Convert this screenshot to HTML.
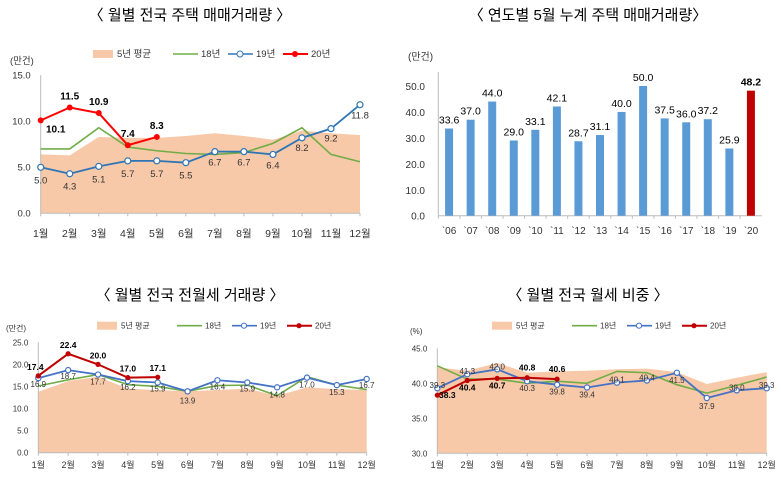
<!DOCTYPE html>
<html><head><meta charset="utf-8">
<style>
body{margin:0;background:#fff;width:781px;height:478px;overflow:hidden;font-family:"Liberation Sans","Noto Sans CJK KR",sans-serif}
svg{position:absolute;left:0;top:0}
text{font-family:"Liberation Sans","Noto Sans CJK KR",sans-serif}
</style></head>
<body>
<svg id="s" width="781" height="478">
<text x="190" y="20" font-size="15" text-anchor="middle" fill="#000">〈 월별 전국 주택 매매거래량 〉</text>
<text x="588" y="20" font-size="15" text-anchor="middle" fill="#000">〈 연도별 5월 누계 주택 매매거래량〉</text>
<text x="190" y="300" font-size="15" text-anchor="middle" fill="#000">〈 월별 전국 전월세 거래량 〉</text>
<text x="588" y="300" font-size="15" text-anchor="middle" fill="#000">〈 월별 전국 월세 비중 〉</text>
</svg>
<script>
const months=['1월','2월','3월','4월','5월','6월','7월','8월','9월','10월','11월','12월'];
const c1Avg=[6.4,6.3,8.3,8.2,8.2,8.4,8.7,8.4,8.0,9.0,8.7,8.5];
const c1Y18=[7.0,7.0,9.3,7.2,6.8,6.5,6.4,6.6,7.6,9.3,6.4,5.6];
const c1Y19=[5.0,4.3,5.1,5.7,5.7,5.5,6.7,6.7,6.4,8.2,9.2,11.8];
const c1Y20=[10.1,11.5,10.9,7.4,8.3];
const c1Ticks=[0,5,10,15];
const c3Avg=[13.8,16.2,17.2,14.5,14.2,13.9,14.2,14.5,12.9,14.8,14.4,14.2];
const c3Y18=[15.1,16.5,17.7,15.4,15.0,13.9,15.2,15.3,12.9,17.2,15.3,14.3];
const c3Y19=[16.9,18.7,17.7,16.2,15.9,13.9,16.4,15.9,14.8,17.0,15.3,16.7];
const c3Y20=[17.4,22.4,20.0,17.0,17.1];
const c3Ticks=[0,5,10,15,20,25];
const c4Avg=[42.3,41.8,42.9,41.5,41.7,41.8,42.0,42.1,41.6,39.9,40.8,41.6];
const c4Y18=[42.5,40.6,40.6,40.0,40.3,40.0,41.7,41.5,39.8,38.6,39.7,40.9];
const c4Y19=[39.3,41.3,42.0,40.3,39.8,39.4,40.1,40.4,41.5,37.9,39.0,39.3];
const c4Y20=[38.3,40.4,40.7,40.8,40.6];
const c4Ticks=[30,35,40,45];
const years=['`06','`07','`08','`09','`10','`11','`12','`13','`14','`15','`16','`17','`18','`19','`20'];
const yearVals=[33.6,37.0,44.0,29.0,33.1,42.1,28.7,31.1,40.0,50.0,37.5,36.0,37.2,25.9,48.2];
const c2Ticks=[0,10,20,30,40,50];

const S=document.getElementById('s');const NS='http://www.w3.org/2000/svg';
function mk(t,a,p){const e=document.createElementNS(NS,t);for(const k in a)e.setAttribute(k,a[k]);(p||S).appendChild(e);return e;}
function txt(x,y,s,fs,anchor,fill,bold){const e=mk('text',{x:x,y:y,'font-size':fs,'text-anchor':anchor||'middle',fill:fill||'#000'});if(bold)e.setAttribute('font-weight','bold');e.textContent=s;return e;}

function lineChart(o){
  const X=i=>o.x0+i*(o.x1-o.x0)/11;
  const Y=v=>o.yb-(v-o.vmin)/(o.vmax-o.vmin)*(o.yb-o.yt);
  const g=mk('g',{});
  
  
  // area
  let d='M'+X(0)+','+Y(o.vmin);
  o.avg.forEach((v,i)=>d+=' L'+X(i)+','+Y(v));
  d+=' L'+X(11)+','+Y(o.vmin)+'Z';
  const ar=mk('path',{d:d,fill:'#f8c9a8'},g);
  
  
  // axes
  mk('line',{x1:o.x0,y1:o.yt,x2:o.x0,y2:o.yb,stroke:'#bbb'},g);
  mk('line',{x1:o.x0,y1:o.yb,x2:o.x1,y2:o.yb,stroke:'#bbb'},g);
  o.ticks.forEach(t=>{const e=txt(o.x0-10,Y(t)+3,t.toFixed(1),o.fs,'end','#333');g.appendChild(e);});
  months.forEach((m,i)=>{mk('line',{x1:X(i),y1:o.yb,x2:X(i),y2:o.yb+3,stroke:'#bbb'},g);const e=txt(X(i),o.xly,m,o.fs+1,'middle','#333');g.appendChild(e);});
  const u=txt(o.ux,o.uy,o.unit,o.fs,'start','#333');
  const pl=(arr,col,w)=>{const p=mk('polyline',{points:arr.map((v,i)=>X(i)+','+Y(v)).join(' '),fill:'none',stroke:col,'stroke-width':w},g);return p;};
  const p18=pl(o.y18,'#70ad47',1.6);
  const p19=pl(o.y19,o.c19,1.8);
  o.y19.forEach((v,i)=>{const c=mk('circle',{cx:X(i),cy:Y(v),r:o.r,fill:'#fff',stroke:o.c19,'stroke-width':1.2},g);
    const off=o.lab19[i]||[0,12];const e=txt(X(i)+off[0],Y(v)+off[1],v.toFixed(1),o.fs,'middle','#333');});
  const p20=pl(o.y20,o.c20,2);
  o.y20.forEach((v,i)=>{const c=mk('circle',{cx:X(i),cy:Y(v),r:o.r,fill:o.c20},g);
    const off=o.lab20[i]||[0,-6];const e=txt(X(i)+off[0],Y(v)+off[1],v.toFixed(1),o.fs+0.5,'middle','#000',true);});
  // legend
  const L=o.leg;const lg=mk('g',{},g);
  mk('rect',{x:L[0],y:L[1]-4,width:20,height:8,fill:'#f8c9a8'},lg);txt(L[0]+24,L[1]+3,'5년 평균',o.fs,'start','#333');
  mk('line',{x1:L[0]+80,y1:L[1],x2:L[0]+105,y2:L[1],stroke:'#70ad47','stroke-width':1.6},lg);txt(L[0]+108,L[1]+3,'18년',o.fs,'start','#333');
  mk('line',{x1:L[0]+135,y1:L[1],x2:L[0]+160,y2:L[1],stroke:o.c19,'stroke-width':1.6},lg);mk('circle',{cx:L[0]+147,cy:L[1],r:o.r,fill:'#fff',stroke:o.c19},lg);txt(L[0]+163,L[1]+3,'19년',o.fs,'start','#333');
  mk('line',{x1:L[0]+190,y1:L[1],x2:L[0]+215,y2:L[1],stroke:o.c20,'stroke-width':2},lg);mk('circle',{cx:L[0]+202,cy:L[1],r:o.r,fill:o.c20},lg);txt(L[0]+218,L[1]+3,'20년',o.fs,'start','#333');
}
lineChart({id:'sales',x0:40.7,x1:360,yt:75.3,yb:213.3,vmin:0,vmax:15,ticks:c1Ticks,avg:c1Avg,y18:c1Y18,y19:c1Y19,y20:c1Y20,fs:9.5,xly:237,ux:10,uy:64,unit:'(만건)',leg:[93,54],c19:'#2e75b6',c20:'#ff0000',r:3,
  lab19:[[0,16],[0,16],[0,16],[0,16],[0,16],[0,16],[0,14],[0,14],[0,14],[0,13],[0,13],[0,14]],
  lab20:[[15,12],[0,-8],[0,-8],[0,-8],[0,-8]]});
lineChart({id:'rent',x0:38.3,x1:366.7,yt:342.3,yb:452.7,vmin:0,vmax:25,ticks:c3Ticks,avg:c3Avg,y18:c3Y18,y19:c3Y19,y20:c3Y20,fs:8,xly:468,ux:6,uy:331,unit:'(만건)',leg:[97,325.7],c19:'#4472c4',c20:'#c00000',r:2.6,
  lab19:[[0,9],[0,9],[0,10],[0,9],[0,9],[0,12],[0,9],[0,9],[0,10],[0,10],[0,10],[0,9]],
  lab20:[[-3,-6],[0,-6],[0,-6],[0,-6],[0,-6]]});
lineChart({id:'monthly-rent-share',x0:437.3,x1:766.7,yt:348.3,yb:453.3,vmin:30,vmax:45,ticks:c4Ticks,avg:c4Avg,y18:c4Y18,y19:c4Y19,y20:c4Y20,fs:8,xly:468,ux:410,uy:334,unit:'(%)',leg:[492,325.7],c19:'#4472c4',c20:'#c00000',r:2.6,
  lab19:[[0,0],[0,0],[0,0],[0,10],[0,10],[0,10],[0,0],[0,0],[0,10],[0,11],[0,0],[0,0]],
  lab20:[[10,3],[0,10],[0,10],[0,-7],[0,-7]]});

// bar chart
(function(){
  const x0=438.3,x1=761.7,yt=86,yb=215.7;
  const bw=(x1-x0)/years.length;
  const Y=v=>yb-v/50*(yb-yt);
  const g=mk('g',{});
  mk('line',{x1:x0,y1:72,x2:x0,y2:yb,stroke:'#bbb'},g);
  mk('line',{x1:x0,y1:yb,x2:x1,y2:yb,stroke:'#bbb'},g);
  c2Ticks.forEach(t=>{const e=txt(425,Y(t)+4,t.toFixed(1),10,'end','#333');});
  const u=txt(408,60,'(만건)',10,'start','#333');
  yearVals.forEach((v,i)=>{
    const cx=x0+bw*(i+0.5);const last=i===years.length-1;
    const r=mk('rect',{x:cx-4,y:Y(v),width:8,height:yb-Y(v),fill:last?'#c00000':'#5b9bd5'},g);
    
    const e=txt(cx,Y(v)-5,v.toFixed(1),10.5,'middle','#000',last);
    const l=txt(cx,234,years[i],10,'middle','#333');
    mk('line',{x1:x0+bw*i,y1:yb,x2:x0+bw*i,y2:yb+3,stroke:'#bbb'},g);
  });
})();
</script>
</body></html>
